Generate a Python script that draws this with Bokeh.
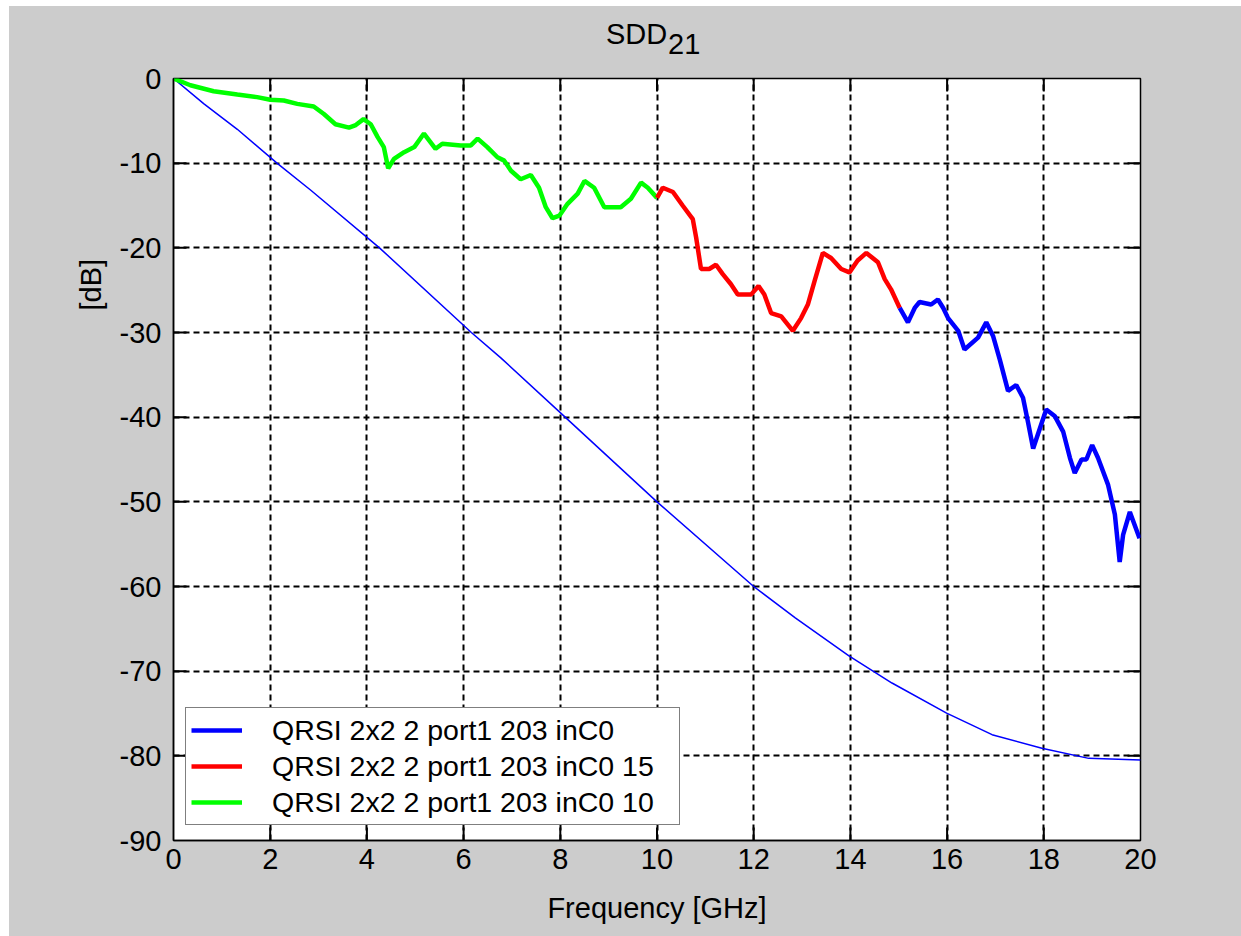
from bokeh.plotting import figure
from bokeh.layouts import column
from bokeh.models import Range1d, FixedTicker, Legend, LegendItem, Title
from bokeh.core.properties import value
from bokeh.embed import file_html
from bokeh.resources import INLINE

# ---------------- data ----------------
freq_green = [0.0, 0.35, 0.83, 1.32, 1.73, 2.0, 2.28, 2.56, 2.9, 3.11, 3.35, 3.63, 3.77, 3.93,
              4.08, 4.22, 4.35, 4.44, 4.56, 4.77, 4.98, 5.18, 5.42, 5.56, 5.94, 6.15, 6.29,
              6.49, 6.70, 6.84, 6.98, 7.18, 7.39, 7.56, 7.70, 7.84, 7.98, 8.15, 8.36, 8.50,
              8.70, 8.91, 9.25, 9.46, 9.67, 9.81, 10.0]
sdd_green = [0.0, -0.8, -1.5, -1.9, -2.2, -2.5, -2.6, -3.0, -3.3, -4.2, -5.4, -5.8, -5.5, -4.8,
             -5.4, -6.9, -8.1, -10.6, -9.5, -8.7, -8.1, -6.5, -8.3, -7.7, -7.9, -7.9, -7.1,
             -8.1, -9.3, -9.7, -10.9, -11.9, -11.4, -12.9, -15.2, -16.5, -16.2, -14.8, -13.6,
             -12.1, -12.9, -15.2, -15.2, -14.2, -12.3, -12.9, -14.1]

freq_red = [10.0, 10.12, 10.33, 10.53, 10.74, 10.81, 10.91, 11.08, 11.22, 11.36, 11.53, 11.67,
            11.95, 12.10, 12.22, 12.36, 12.57, 12.81, 12.98, 13.12, 13.26, 13.43, 13.60, 13.81,
            13.98, 14.15, 14.33, 14.57, 14.71, 14.84, 15.02]
sdd_red = [-14.1, -12.9, -13.4, -15.0, -16.6, -18.8, -22.5, -22.5, -22.0, -23.1, -24.3, -25.5,
           -25.5, -24.5, -25.5, -27.7, -28.1, -29.8, -28.3, -26.7, -23.9, -20.6, -21.2, -22.5,
           -22.9, -21.5, -20.6, -21.7, -23.7, -24.9, -27.1]

freq_blue = [15.02, 15.19, 15.33, 15.43, 15.67, 15.81, 15.92, 16.02, 16.23, 16.36, 16.64, 16.81,
             16.95, 17.09, 17.26, 17.43, 17.57, 17.67, 17.78, 17.92, 18.05, 18.23, 18.40, 18.54,
             18.64, 18.78, 18.88, 19.00, 19.12, 19.33, 19.47, 19.57, 19.64, 19.78, 19.98]
sdd_blue = [-27.1, -28.8, -27.1, -26.4, -26.7, -26.1, -27.1, -28.3, -29.8, -32.0, -30.6, -28.8,
            -30.4, -33.2, -36.9, -36.2, -37.7, -40.5, -43.7, -41.3, -39.1, -39.9, -41.7, -44.8,
            -46.6, -45.0, -45.0, -43.3, -44.8, -48.0, -51.5, -57.1, -53.9, -51.2, -54.3]

freq_ref = [0.0, 0.63, 1.32, 2.14, 2.84, 4.26, 6.16, 6.77, 8.1, 10.0, 12.0, 12.86, 13.97, 14.86,
            15.99, 16.93, 17.96, 18.93, 20.0]
sdd_ref = [0.0, -3.0, -6.0, -10.0, -13.2, -20.0, -30.0, -33.0, -40.0, -50.0, -60.0, -63.7, -68.2,
           -71.4, -74.95, -77.5, -79.1, -80.3, -80.5]

legend_labels = ["QRSI 2x2 2 port1 203 inC0", "QRSI 2x2 2 port1 203 inC0 15",
                 "QRSI 2x2 2 port1 203 inC0 10"]
x_ticks = [0, 2, 4, 6, 8, 10, 12, 14, 16, 18, 20]
x_tick_labels = ["0", "2", "4", "6", "8", "10", "12", "14", "16", "18", "20"]
y_ticks = [0, -10, -20, -30, -40, -50, -60, -70, -80, -90]
y_tick_labels = ["0", "-10", "-20", "-30", "-40", "-50", "-60", "-70", "-80", "-90"]

title_parts = ["SDD", "21"]
x_label = "Frequency [GHz]"
y_label = "[dB]"

# ---------------- style / layout ----------------
FONT = "Liberation Sans"
FS = "29px"
GRAY = "#cccccc"
X0, X1, Y0, Y1 = 0, 20, -90, 0
FRAME_W, FRAME_H = 967, 762
TICK_PX = 13
B_LEFT, B_RIGHT, B_TOP, B_BOTTOM = 164, 101, 20, 96
PAGE_W, PAGE_H, M_TOP, M_LEFT = 1241, 936, 6, 9
TITLE_H = 52
FIG_W = PAGE_W - M_LEFT

xr = Range1d(X0, X1)

# ---------------- title strip ----------------
tf = figure(width=FIG_W, height=TITLE_H, output_backend="svg", toolbar_location=None,
            x_range=xr, y_range=Range1d(0, TITLE_H),
            min_border_left=B_LEFT, min_border_right=B_RIGHT, min_border_top=0, min_border_bottom=0)
tf.axis.visible = False
tf.grid.visible = False
tf.outline_line_color = None
tf.background_fill_alpha = 0
tf.border_fill_alpha = 0
tf.text(x=[10.21], y=[25], text=[title_parts[0]], text_align="right",
        text_baseline="alphabetic", text_font=value(FONT), text_font_size=FS, text_color="black")
tf.text(x=[10.23], y=[15], text=[title_parts[1]], text_align="left",
        text_baseline="alphabetic", text_font=value(FONT), text_font_size=FS, text_color="black")

# ---------------- main plot ----------------
p = figure(width=FIG_W, height=PAGE_H - M_TOP - TITLE_H, output_backend="svg",
           toolbar_location=None, x_range=xr, y_range=Range1d(Y0, Y1),
           min_border_left=B_LEFT, min_border_right=B_RIGHT,
           min_border_top=B_TOP, min_border_bottom=B_BOTTOM)
p.border_fill_alpha = 0
p.background_fill_color = "white"
p.outline_line_color = "black"
p.outline_line_width = 1.5

xt = FixedTicker(ticks=x_ticks)
yt = FixedTicker(ticks=y_ticks)
p.xaxis.ticker = xt
p.yaxis.ticker = yt
p.xaxis.major_label_overrides = {t: l for t, l in zip(x_ticks, x_tick_labels)}
p.yaxis.major_label_overrides = {t: l for t, l in zip(y_ticks, y_tick_labels)}

for ax in (p.xaxis[0], p.yaxis[0]):
    ax.major_tick_in = 0
    ax.major_tick_out = 0
    ax.minor_tick_in = 0
    ax.minor_tick_out = 0
    ax.axis_line_color = "black"
    ax.axis_line_width = 1.5
    ax.major_label_text_font = FONT
    ax.major_label_text_font_size = FS
    ax.major_label_text_color = "black"

p.xaxis.major_label_standoff = 8
p.yaxis.major_label_standoff = 12
p.xaxis.axis_label = x_label
p.xaxis.axis_label_text_font = FONT
p.xaxis.axis_label_text_font_size = FS
p.xaxis.axis_label_text_font_style = "normal"
p.xaxis.axis_label_text_color = "black"
p.xaxis.axis_label_standoff = 20

p.add_layout(Title(text=y_label, align="left", offset=530, standoff=19,
                   text_font=FONT, text_font_size=FS, text_font_style="normal",
                   text_color="black"), "left")

p.xgrid.ticker = xt
p.ygrid.ticker = yt
for g in (p.xgrid[0], p.ygrid[0]):
    g.grid_line_color = "black"
    g.grid_line_width = 2
    g.grid_line_dash = "6 4"
    g.grid_line_alpha = 1.0

# inward tick marks on all four sides (MATLAB box style), from the tick arrays
dx = TICK_PX * (X1 - X0) / FRAME_W
dy = TICK_PX * (Y1 - Y0) / FRAME_H
xt_in = [t for t in x_ticks if X0 < t < X1]
yt_in = [t for t in y_ticks if Y0 < t < Y1]
p.segment(x0=xt_in, y0=[Y0] * len(xt_in), x1=xt_in, y1=[Y0 + dy] * len(xt_in),
          line_color="black", line_width=2)
p.segment(x0=xt_in, y0=[Y1] * len(xt_in), x1=xt_in, y1=[Y1 - dy] * len(xt_in),
          line_color="black", line_width=2)
p.segment(x0=[X0] * len(yt_in), y0=yt_in, x1=[X0 + dx] * len(yt_in), y1=yt_in,
          line_color="black", line_width=2)
p.segment(x0=[X1] * len(yt_in), y0=yt_in, x1=[X1 - dx] * len(yt_in), y1=yt_in,
          line_color="black", line_width=2)

# ---------------- curves ----------------
p.line(freq_ref, sdd_ref, line_color="#0000ff", line_width=1.5)
r_green = p.line(freq_green, sdd_green, line_color="#00ff00", line_width=4.5)
r_red = p.line(freq_red, sdd_red, line_color="#ff0000", line_width=4.5)
r_blue = p.line(freq_blue, sdd_blue, line_color="#0000ff", line_width=4.5)

legend = Legend(items=[LegendItem(label=legend_labels[0], renderers=[r_blue]),
                       LegendItem(label=legend_labels[1], renderers=[r_red]),
                       LegendItem(label=legend_labels[2], renderers=[r_green])],
                location=(12, 15))
legend.border_line_color = "black"
legend.border_line_width = 1.5
legend.background_fill_color = "white"
legend.background_fill_alpha = 1.0
legend.label_text_font = FONT
legend.label_text_font_size = "28.5px"
legend.label_text_color = "black"
legend.glyph_width = 51
legend.glyph_height = 34
legend.label_height = 34
legend.label_width = 402
legend.label_standoff = 30
legend.spacing = 2
legend.padding = 5
legend.margin = 0
p.add_layout(legend, "center")

layout = column(tf, p, spacing=0, margin=(M_TOP, 0, 0, M_LEFT),
                styles={"background-color": GRAY})
open("out.html", "w").write(file_html(layout, INLINE))
